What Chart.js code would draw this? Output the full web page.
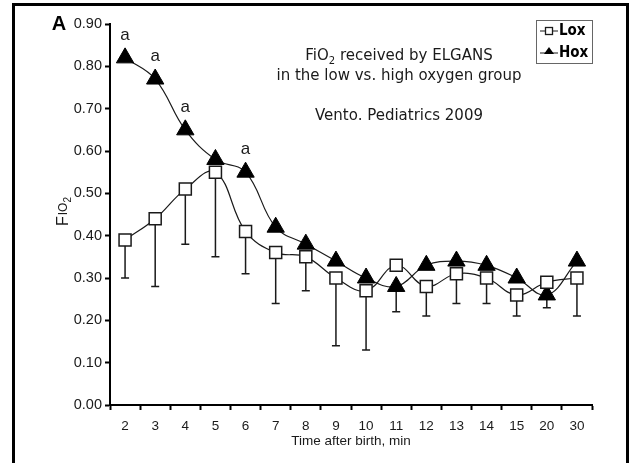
<!DOCTYPE html>
<html>
<head>
<meta charset="utf-8">
<script src="https://cdn.jsdelivr.net/npm/chart.js@4.4.1/dist/chart.umd.min.js"></script>
<style>
  body { margin: 0; background: #fff; }
  #wrap { width: 632px; height: 463px; }
</style>
</head>
<body>
<div id="wrap"><canvas id="chart" width="632" height="463"></canvas></div>
<script>
// Time after birth (min) - category axis
const categories = ["2", "3", "4", "5", "6", "7", "8", "9", "10", "11", "12", "13", "14", "15", "20", "30"];

// Low oxygen group (Lox): mean FiO2 and lower end of error bar
const loxMean = [0.39, 0.44, 0.51, 0.55, 0.41, 0.36, 0.35, 0.30, 0.27, 0.33, 0.28, 0.31, 0.30, 0.26, 0.29, 0.30];
const loxLower = [0.30, 0.28, 0.38, 0.35, 0.31, 0.24, 0.27, 0.14, 0.13, null, 0.21, 0.24, 0.24, 0.21, null, 0.21];

// High oxygen group (Hox)
const hoxMean = [0.82, 0.77, 0.65, 0.58, 0.55, 0.42, 0.38, 0.34, 0.30, 0.28, 0.33, 0.34, 0.33, 0.30, 0.26, 0.34];
const hoxLower = [null, null, null, null, null, null, null, null, null, 0.22, null, null, null, null, 0.23, null];

// significance letters above Hox points
const sigMarks = ["a", "a", "a", "", "a", "", "", "", "", "", "", "", "", "", "", ""];

const ink = "#1a1a1a";
const sans = "'Liberation Sans', Arial, sans-serif";

// error bars (drawn under the markers)
const errorBars = {
  id: "errorBars",
  beforeDatasetsDraw(chart) {
    const ctx = chart.ctx, y = chart.scales.y;
    ctx.save();
    ctx.strokeStyle = ink;
    ctx.lineWidth = 1.5;
    chart.data.datasets.forEach((ds, di) => {
      const meta = chart.getDatasetMeta(di);
      ds.lower.forEach((lo, i) => {
        if (lo == null) return;
        const p = meta.data[i];
        const yl = y.getPixelForValue(lo);
        ctx.beginPath();
        ctx.moveTo(p.x, p.y);
        ctx.lineTo(p.x, yl);
        ctx.moveTo(p.x - 4, yl);
        ctx.lineTo(p.x + 4, yl);
        ctx.stroke();
      });
    });
    ctx.restore();
  }
};

// frame, panel letter, titles, legend, letters
const decorations = {
  id: "decorations",
  afterDraw(chart) {
    const ctx = chart.ctx;
    ctx.save();

    // outer frame
    ctx.strokeStyle = "#000";
    ctx.lineWidth = 3;
    ctx.strokeRect(13.5, 4.5, 614, 462);

    // panel letter
    ctx.fillStyle = "#000";
    ctx.font = "bold 20px " + sans;
    ctx.textBaseline = "middle";
    ctx.textAlign = "center";
    ctx.fillText("A", 59, 24);

    // "a" marks
    const hox = chart.getDatasetMeta(1);
    ctx.font = "17px " + sans;
    ctx.fillStyle = ink;
    sigMarks.forEach((m, i) => {
      if (!m) return;
      const p = hox.data[i];
      ctx.fillText(m, p.x, p.y - 23);
    });

    // y axis title: F IO 2
    ctx.save();
    ctx.translate(68, 226);
    ctx.rotate(-Math.PI / 2);
    ctx.textAlign = "left";
    ctx.textBaseline = "alphabetic";
    ctx.font = "16px " + sans;
    ctx.fillText("F", 0, 0);
    let w = ctx.measureText("F").width;
    ctx.font = "12px " + sans;
    ctx.fillText("IO", w + 1, -1);
    w += 1 + ctx.measureText("IO").width;
    ctx.font = "10px " + sans;
    ctx.fillText("2", w, 3);
    ctx.restore();

    // annotation text
    const tf = "'DejaVu Sans', Verdana, sans-serif";
    ctx.font = "15px " + tf;
    ctx.textAlign = "left";
    ctx.textBaseline = "middle";
    const cx = 399;
    const p1 = "FiO", p2 = " received by ELGANS";
    const w1 = ctx.measureText(p1).width;
    ctx.font = "10px " + tf;
    const w2 = ctx.measureText("2").width;
    ctx.font = "15px " + tf;
    const w3 = ctx.measureText(p2).width;
    let x0 = cx - (w1 + w2 + w3) / 2;
    ctx.fillText(p1, x0, 56);
    ctx.font = "10px " + tf;
    ctx.fillText("2", x0 + w1, 61);
    ctx.font = "15px " + tf;
    ctx.fillText(p2, x0 + w1 + w2, 56);
    ctx.textAlign = "center";
    ctx.fillText("in the low vs. high oxygen group", cx, 76);
    ctx.fillText("Vento. Pediatrics 2009", cx, 116);

    // legend box
    ctx.strokeStyle = "#666";
    ctx.lineWidth = 1;
    ctx.strokeRect(536.5, 20.5, 56, 43);
    ctx.strokeStyle = ink;
    ctx.lineWidth = 1.2;
    ctx.beginPath();
    ctx.moveTo(540, 31); ctx.lineTo(558, 31);
    ctx.moveTo(540, 53); ctx.lineTo(558, 53);
    ctx.stroke();
    ctx.fillStyle = "#fff";
    ctx.lineWidth = 1.3;
    ctx.fillRect(545.5, 27.5, 7, 7);
    ctx.strokeRect(545.5, 27.5, 7, 7);
    ctx.fillStyle = "#000";
    ctx.beginPath();
    ctx.moveTo(549, 47); ctx.lineTo(554, 54); ctx.lineTo(544, 54);
    ctx.closePath();
    ctx.fill();
    ctx.font = "bold 15px 'Liberation Sans Narrow', 'DejaVu Sans Condensed', sans-serif";
    ctx.textAlign = "left";
    ctx.fillText("Lox", 559, 31);
    ctx.fillText("Hox", 559, 53);

    ctx.restore();
  }
};

new Chart(document.getElementById("chart"), {
  type: "line",
  data: {
    labels: categories,
    datasets: [
      {
        label: "Lox",
        data: loxMean,
        lower: loxLower,
        borderColor: ink,
        borderWidth: 1.2,
        tension: 0.4,
        pointStyle: "rect",
        pointRadius: 8.5,
        pointBackgroundColor: "#fff",
        pointBorderColor: ink,
        pointBorderWidth: 1.5
      },
      {
        label: "Hox",
        data: hoxMean,
        lower: hoxLower,
        borderColor: ink,
        borderWidth: 1.2,
        tension: 0.4,
        pointStyle: "triangle",
        pointRadius: 10,
        pointBackgroundColor: "#000",
        pointBorderColor: "#000",
        pointBorderWidth: 1
      }
    ]
  },
  options: {
    responsive: false,
    animation: false,
    layout: { padding: { left: 0, top: 24, right: 40, bottom: 10 } },
    plugins: {
      legend: { display: false },
      tooltip: { enabled: false }
    },
    scales: {
      x: {
        offset: true,
        grid: { offset: true, drawOnChartArea: false, color: "#000", tickLength: 5, tickWidth: 2 },
        border: { color: "#000", width: 2 },
        ticks: { color: ink, font: { family: sans, size: 13.5 }, padding: 8, maxRotation: 0, autoSkip: false },
        title: { display: true, text: "Time after birth, min", color: ink, font: { family: sans, size: 13.5 }, padding: { top: 0, bottom: 4 } },
        afterFit(s) { s.height = 48; }
      },
      y: {
        min: 0,
        max: 0.9,
        grid: { drawOnChartArea: false, color: "#000", tickLength: 5, tickWidth: 2 },
        border: { color: "#000", width: 2 },
        ticks: { stepSize: 0.1, color: ink, font: { family: sans, size: 14.5 }, padding: 3, callback: v => v.toFixed(2) },
        afterFit(s) { s.width = 110; }
      }
    }
  },
  plugins: [errorBars, decorations]
});
</script>
</body>
</html>
